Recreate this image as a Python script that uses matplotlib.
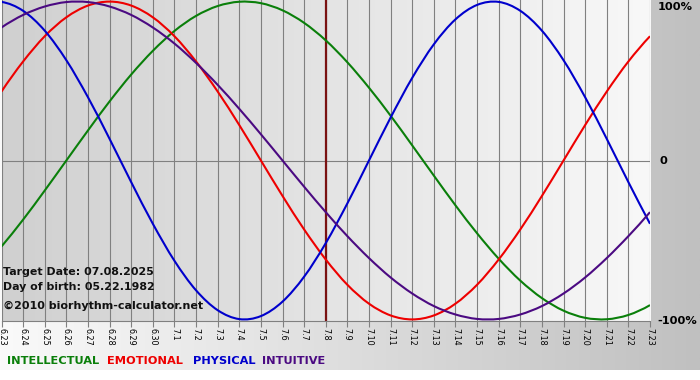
import numpy as np
import matplotlib.pyplot as plt
from matplotlib.colors import LinearSegmentedColormap
from matplotlib.path import Path
from matplotlib.patches import PathPatch

# Datas do eixo x (mes.dia)
dates = ['6.23', '6.24', '6.25', '6.26', '6.27', '6.28', '6.29', '6.30',
         '7.1', '7.2', '7.3', '7.4', '7.5', '7.6', '7.7', '7.8', '7.9',
         '7.10', '7.11', '7.12', '7.13', '7.14', '7.15', '7.16', '7.17',
         '7.18', '7.19', '7.20', '7.21', '7.22', '7.23']
target_label = '7.8'

# Valores (%)
intellectual = [-54.1, -37.2, -18.9, 0.0, 18.9, 37.2, 54.1, 69.0, 81.5, 91.0,
                97.2, 99.9, 99.0, 94.5, 86.6, 75.6, 61.8, 45.8, 28.2, 9.5,
                -9.5, -28.2, -45.8, -61.8, -75.6, -86.6, -94.5, -99.0, -99.9,
                -97.2, -91.0]
emotional = [43.4, 62.3, 78.2, 90.1, 97.5, 100.0, 97.5, 90.1, 78.2, 62.3,
             43.4, 22.3, 0.0, -22.3, -43.4, -62.3, -78.2, -90.1, -97.5,
             -100.0, -97.5, -90.1, -78.2, -62.3, -43.4, -22.3, 0.0, 22.3,
             43.4, 62.3, 78.2]
physical = [99.8, 94.2, 81.7, 63.1, 39.8, 13.6, -13.6, -39.8, -63.1, -81.7,
            -94.2, -99.8, -97.9, -88.8, -73.1, -52.0, -27.0, 0.0, 27.0, 52.0,
            73.1, 88.8, 97.9, 99.8, 94.2, 81.7, 63.1, 39.8, 13.6, -13.6,
            -39.8]
intuitive = [83.7, 91.6, 96.9, 99.7, 99.7, 96.9, 91.6, 83.7, 73.6, 61.4,
             47.6, 32.5, 16.5, 0.0, -16.5, -32.5, -47.6, -61.4, -73.6, -83.7,
             -91.6, -96.9, -99.7, -99.7, -96.9, -91.6, -83.7, -73.6, -61.4,
             -47.6, -32.5]

series = [('INTELLECTUAL', intellectual, '#0a7f0a'),
          ('EMOTIONAL', emotional, '#ee0000'),
          ('PHYSICAL', physical, '#0000cc'),
          ('INTUITIVE', intuitive, '#4b0a82')]


def smooth_path(xs, ys):
    # linha suave passando pelos pontos (curvas de Bezier tipo Catmull-Rom)
    xs = np.asarray(xs, float)
    ys = np.asarray(ys, float)
    px = np.concatenate([[3 * xs[0] - 3 * xs[1] + xs[2]], xs,
                         [3 * xs[-1] - 3 * xs[-2] + xs[-3]]])
    py = np.concatenate([[3 * ys[0] - 3 * ys[1] + ys[2]], ys,
                         [3 * ys[-1] - 3 * ys[-2] + ys[-3]]])
    verts = [(xs[0], ys[0])]
    codes = [Path.MOVETO]
    for i in range(1, len(px) - 2):
        c1 = (px[i] + (px[i + 1] - px[i - 1]) / 6, py[i] + (py[i + 1] - py[i - 1]) / 6)
        c2 = (px[i + 1] - (px[i + 2] - px[i]) / 6, py[i + 1] - (py[i + 2] - py[i]) / 6)
        verts += [c1, c2, (px[i + 1], py[i + 1])]
        codes += [Path.CURVE4] * 3
    return Path(verts, codes)


W, H = 700, 380
fig = plt.figure(figsize=(W / 100, H / 100), dpi=100)

# Fundo externo com degrade horizontal
grad = np.linspace(0, 1, 256).reshape(1, -1)
bg = fig.add_axes([0, 0, 1, 1], zorder=0)
bg.axis('off')
outer_cmap = LinearSegmentedColormap.from_list('outer', ['#fafafa', '#c0c0c0'])
bg.imshow(grad, cmap=outer_cmap, aspect='auto', extent=[0, W, H - 370, H])
bg.set_xlim(0, W)
bg.set_ylim(0, H)

# Area do grafico
ax = fig.add_axes([1.5 / W, 59 / H, 648.5 / W, 321 / H], zorder=1)
x = np.arange(len(dates))
inner_cmap = LinearSegmentedColormap.from_list('inner', ['#d0d0d0', '#f8f8f8'])
ax.imshow(grad, cmap=inner_cmap, aspect='auto',
          extent=[x[0], x[-1], -101, 101], zorder=0)
ax.set_xlim(x[0], x[-1])
ax.set_ylim(-101, 101)

for xi in x:
    ax.axvline(xi, color='#808080', lw=0.8, zorder=1)
ax.axhline(0, color='#808080', lw=0.8, zorder=1)
ax.axvline(dates.index(target_label), color='#7a1212', lw=1.6, zorder=2)

for name, vals, color in series:
    ax.add_patch(PathPatch(smooth_path(x, vals), facecolor='none',
                           edgecolor=color, lw=1.5, zorder=3))

for s in ['top', 'left', 'right']:
    ax.spines[s].set_visible(False)
ax.spines['bottom'].set_color('#808080')
ax.spines['bottom'].set_linewidth(0.8)

ax.set_yticks([])
ax.set_xticks(x)
ax.set_xticklabels(dates, rotation=-90, fontsize=5.8)
ax.tick_params(axis='x', length=4, width=0.8, color='#808080', pad=1)

# Rotulos da direita
lab_kw = dict(transform=ax.transAxes, ha='left', va='center',
              fontsize=8.2, fontweight='bold', clip_on=False)
ax.text(1.012, 0.978, '100%', **lab_kw)
ax.text(1.014, 0.5, '0', **lab_kw)
ax.text(1.011, 0.0, '-100%', **lab_kw)

# Informacoes dentro do grafico
info_kw = dict(transform=ax.transAxes, ha='left', va='center',
               fontweight='bold', color='#111111', zorder=4)
ax.text(0.003, 0.153, 'Target Date: 07.08.2025', fontsize=7.9, **info_kw)
ax.text(0.003, 0.106, 'Day of birth: 05.22.1982', fontsize=7.9, **info_kw)
ax.text(0.003, 0.047, '\u00a92010 biorhythm-calculator.net', fontsize=8, **info_kw)

# Legenda em texto
legend_x = [7, 107, 193, 262]
for (name, vals, color), lx in zip(series, legend_x):
    fig.text(lx / W, 1 - 361 / H, name, color=color, fontsize=8.2,
             fontweight='bold', ha='left', va='center')

plt.savefig('out.png', dpi=100)
